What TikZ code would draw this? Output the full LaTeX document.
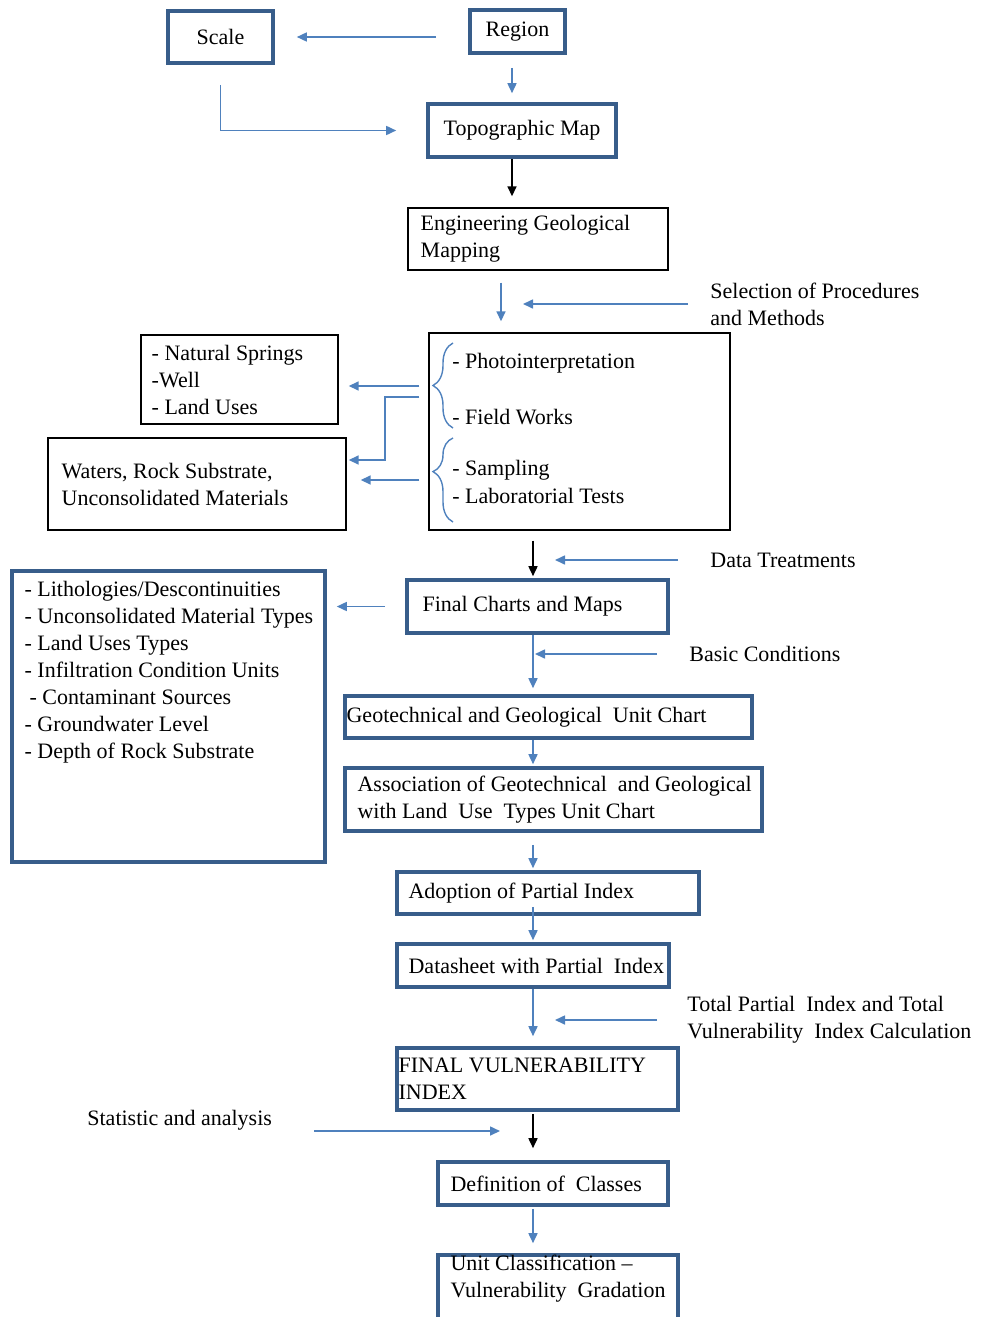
\documentclass[tikz,border=0pt]{standalone}
\usepackage{fontspec}
\setmainfont{Liberation Serif}
\usetikzlibrary{arrows.meta, positioning, decorations.pathreplacing}
\definecolor{frameblue}{HTML}{385D8A}
\definecolor{flowblue}{HTML}{4F81BD}
\tikzset{
  tbox/.style={draw=frameblue, line width=1.8pt, inner sep=0pt},
  pbox/.style={draw=black, line width=0.7pt, inner sep=0pt},
  lbl/.style={align=left, inner sep=0pt},
  flow/.style={-{Triangle[length=5pt,width=4.5pt]}, draw=flowblue, line width=0.8pt},
  mflow/.style={-{Triangle[length=5pt,width=4.5pt]}, draw=black, line width=0.8pt},
  bracket/.style={draw=flowblue, line width=0.7pt, decorate},
}

\begin{document}
\begin{tikzpicture}[x=0.5pt, y=-0.5pt, every node/.style={font=\fontsize{11}{13.5}\selectfont}]
  \useasboundingbox (0,0) rectangle (984,1317);
  \clip (0,0) rectangle (984,1317);
  % columns and rows of the free arrows
  \coordinate (colR) at (512,0);
  \coordinate (colE) at (501,0);
  \coordinate (colM) at (533,0);
  \coordinate (rowA) at (0,386);
  \coordinate (elbow) at (385,397);
  \coordinate (rowC) at (0,460);
  \coordinate (rowD) at (0,480);
  \coordinate (rowS) at (0,1131);
  % top: scale, region, map
  \node[tbox, minimum width=52.5pt, minimum height=26pt] (scale) at (220.5,37) {Scale};
  \node[tbox, minimum width=47.5pt, minimum height=21.5pt] (region) at (517.5,31.5) {Region};
  \node[tbox, minimum width=94pt, minimum height=26.5pt] (topo) at (522,130.5) {Topographic Map};
  \node[pbox, minimum width=130pt, minimum height=31pt] (egm) at (538,239) {};
  \node[lbl, right=6.5pt of egm.west] (egmtext) {Engineering Geological\\Mapping};
  \node[lbl, anchor=west] (sel) at (710,304) {Selection of Procedures\\and Methods};
  % procedures box and its outputs
  \node[pbox, minimum width=150.5pt, minimum height=98.5pt] (methods) at (579.5,431.5) {};
  \node[lbl, anchor=west] (photo) at (452,363) {- Photointerpretation};
  \node[lbl, anchor=west] (field) at (452,417) {- Field Works};
  \node[lbl, anchor=west] (sampl) at (452,470) {- Sampling};
  \node[lbl, anchor=west] (labtest) at (452,496) {- Laboratorial Tests};
  \draw[bracket, decoration={brace, amplitude=10pt}] (453,428) -- (453,343);
  \draw[bracket, decoration={brace, amplitude=10pt, aspect=0.6}] (453,522) -- (453,438);
  \node[pbox, minimum width=98.5pt, minimum height=44.5pt] (springs) at (239.5,379.5) {};
  \node[lbl, right=5.5pt of springs.west] (springstext) {- Natural Springs\\-Well\\- Land Uses};
  \node[pbox, minimum width=149pt, minimum height=46pt] (waters) at (197,484) {};
  \node[lbl, right=7pt of waters.west] (waterstext) {Waters, Rock Substrate,\\Unconsolidated Materials};
  % charts and maps
  \node[lbl, anchor=west] (data) at (710,560) {Data Treatments};
  \node[tbox, minimum width=130.5pt, minimum height=26.5pt] (final) at (537.5,606.5) {};
  \node[lbl, right=8.5pt of final.west] (finaltext) {Final Charts and Maps};
  \node[tbox, minimum width=156.5pt, minimum height=145.5pt] (litho) at (168.5,716.5) {};
  \node[lbl, anchor=north west] (lithotext) at ([xshift=7pt, yshift=-6pt]litho.north west)
    {- Lithologies/Descontinuities\\- Unconsolidated Material Types\\- Land Uses Types\\
     - Infiltration Condition Units\\\hspace{2.5pt}- Contaminant Sources\\- Groundwater Level\\
     - Depth of Rock Substrate};
  \node[lbl, anchor=west] (basic) at (689,654) {Basic Conditions};
  \node[tbox, minimum width=203.5pt, minimum height=21pt] (geotech) at (548.5,717) {};
  \node[lbl, right=1.5pt of geotech.west] (geotechtext) {Geotechnical and Geological\ \ Unit Chart};
  \node[tbox, minimum width=208.5pt, minimum height=31.5pt] (assoc) at (553.5,799.5) {};
  \node[lbl, right=7pt of assoc.west] (assoctext)
    {Association of Geotechnical\ \ and Geological\\with Land\ \ Use\ \ Types Unit Chart};
  % indices
  \node[tbox, minimum width=151pt, minimum height=21pt] (adoption) at (548,893) {};
  \node[lbl, right=6.5pt of adoption.west] (adoptiontext) {Adoption of Partial Index};
  \node[tbox, minimum width=136pt, minimum height=21.5pt] (datasheet) at (533,965.5) {};
  \node[lbl, right=6.5pt of datasheet.west] (datasheettext) {Datasheet with Partial\ \ Index};
  \node[lbl, anchor=west] (total) at (687,1020) {Total Partial\ \ Index and Total\\Vulnerability\ \ Index Calculation};
  \node[tbox, minimum width=140.5pt, minimum height=31pt] (finalvi) at (537.5,1079) {};
  \node[lbl, right=1.5pt of finalvi.west] (finalvitext) {FINAL VULNERABILITY\\INDEX};
  \node[lbl, anchor=west] (stat) at (87,1120) {Statistic and analysis};
  \node[tbox, minimum width=115pt, minimum height=21.5pt] (classes) at (553,1183.5) {};
  \node[lbl, right=7pt of classes.west] (classestext) {Definition of\ \ Classes};
  \node[tbox, minimum width=120pt, minimum height=35pt] (unitclass) at (558,1290) {};
  \node[lbl, anchor=north west] (unittext) at ([xshift=7pt, yshift=-0.5pt]unitclass.north west)
    {Unit Classification --\\Vulnerability\ \ Gradation};
  % connectors
  \draw[flow, shorten <=16pt, shorten >=11pt] (region.west |- scale.east) -- (scale.east);
  \draw[flow, shorten <=6.5pt, shorten >=4.5pt] (region.south -| colR) -- (topo.north -| colR);
  \draw[flow, shorten <=10pt, shorten >=15pt] (scale.south) |- (topo.west);
  \draw[mflow, shorten >=5.5pt] (topo.south -| colR) -- (egm.north -| colR);
  \draw[flow, shorten <=6pt, shorten >=5.5pt] (egm.south -| colE) -- (methods.north -| colE);
  \draw[flow, shorten <=11pt, shorten >=11pt] (sel.west) -- (sel.west -| colE);
  \draw[flow, shorten <=4.5pt, shorten >=5pt] (methods.west |- rowA) -- (springs.east |- rowA);
  \draw[flow, shorten <=4.5pt, shorten >=1pt] (methods.west |- elbow) -- (elbow) |- (waters.east |- rowC);
  \draw[flow, shorten <=4.5pt, shorten >=7pt] (methods.west |- rowD) -- (waters.east |- rowD);
  \draw[mflow, shorten <=5pt, shorten >=1pt] (methods.south -| colM) -- (final.north -| colM);
  \draw[flow, shorten <=16pt, shorten >=11pt] (data.west) -- (data.west -| colM);
  \draw[flow, shorten <=10pt, shorten >=5pt] (final.west) -- (final.west -| litho.east);
  \draw[flow, shorten >=3pt] (final.south -| colM) -- (geotech.north -| colM);
  \draw[flow, shorten <=16pt, shorten >=1pt] (basic.west) -- (basic.west -| colM);
  \draw[flow, shorten >=1pt] (geotech.south -| colM) -- (assoc.north -| colM);
  \draw[flow, shorten <=6pt, shorten >=1pt] (assoc.south -| colM) -- (adoption.north -| colM);
  \draw[flow, shorten <=-4.5pt, shorten >=1pt] (adoption.south -| colM) -- (datasheet.north -| colM);
  \draw[flow, shorten >=5pt] (datasheet.south -| colM) -- (finalvi.north -| colM);
  \draw[flow, shorten <=15pt, shorten >=11pt] (total.west) -- (total.west -| colM);
  \draw[mflow, shorten <=1pt, shorten >=6pt] (finalvi.south -| colM) -- (classes.north -| colM);
  \draw[flow, shorten <=21pt, shorten >=16.5pt] (stat.east |- rowS) -- (colM |- rowS);
  \draw[flow, shorten <=1pt, shorten >=5pt] (classes.south -| colM) -- (unitclass.north -| colM);
\end{tikzpicture}
\end{document}
